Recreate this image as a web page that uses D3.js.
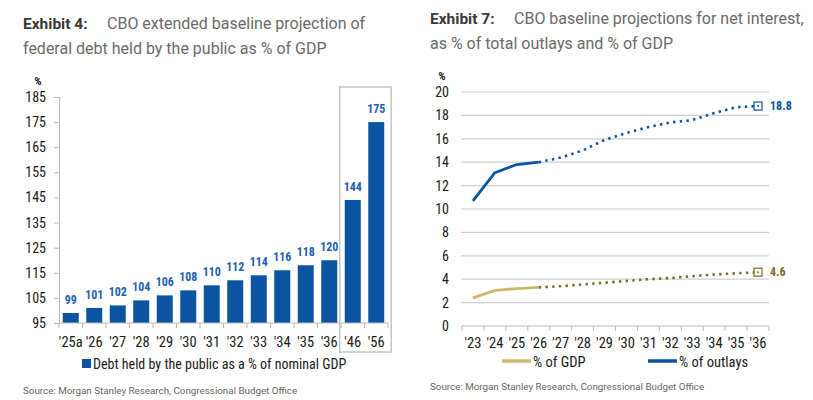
<!DOCTYPE html>
<html>
<head>
<meta charset="utf-8">
<script src="https://cdn.jsdelivr.net/npm/d3@7"></script>
<style>
  body { margin: 0; background: #fff; }
  svg { display: block; }
</style>
</head>
<body>
<div id="chart"></div>
<script>
// Exhibit 4 data
const debtYears = ["'25a", "'26", "'27", "'28", "'29", "'30", "'31", "'32", "'33", "'34", "'35", "'36", "'46", "'56"];
const debtValues = [99, 101, 102, 104, 106, 108, 110, 112, 114, 116, 118, 120, 144, 175];
const debtTicks = [95, 105, 115, 125, 135, 145, 155, 165, 175, 185];

// Exhibit 7 data
const interestYears = ["'23", "'24", "'25", "'26", "'27", "'28", "'29", "'30", "'31", "'32", "'33", "'34", "'35", "'36"];
const outlaysPct = [10.7, 13.1, 13.8, 14.0, 14.4, 15.0, 15.9, 16.5, 17.0, 17.4, 17.6, 18.2, 18.7, 18.8];
const gdpPct = [2.4, 3.05, 3.2, 3.3, 3.4, 3.55, 3.7, 3.85, 4.0, 4.1, 4.25, 4.4, 4.5, 4.6];
const interestTicks = [0, 2, 4, 6, 8, 10, 12, 14, 16, 18, 20];
const actualCount = 4; // '23-'26 solid, rest projected (dotted)

const W = 813, H = 400;
const narrow = "'Roboto Condensed', 'Liberation Sans Narrow', sans-serif";
const titleFont = "Roboto, 'Open Sans', sans-serif";

const blue = '#0b54a2';
const blueLabel = '#1f5fae';
const gold = '#cdb86c';
const olive = '#7a6a2c';
const axisGrey = '#b8b8b8';
const textDark = '#1a1a1a';

const svg = d3.select('#chart')
  .append('svg')
  .attr('width', W)
  .attr('height', H)
  .attr('viewBox', [0, 0, W, H]);

// ---------- titles ----------
function title(x, y, bold, rest1, rest2, restX) {
  const g = svg.append('g').attr('font-family', titleFont);
  g.append('text')
    .attr('x', x).attr('y', y)
    .attr('font-size', 15.5).attr('font-weight', 'bold').attr('fill', '#3a3a3a')
    .text(bold);
  g.append('text')
    .attr('x', restX).attr('y', y)
    .attr('font-size', 16).attr('fill', '#6a6a6a')
    .text(rest1);
  g.append('text')
    .attr('x', x).attr('y', y + 25)
    .attr('font-size', 16).attr('fill', '#6a6a6a')
    .text(rest2);
}
title(23, 29, 'Exhibit 4:', 'CBO extended baseline projection of', 'federal debt held by the public as % of GDP', 107);
title(430, 24, 'Exhibit 7:', 'CBO baseline projections for net interest,', 'as % of total outlays and % of GDP', 514);

// ---------- Exhibit 4: bars ----------
const left = svg.append('g');

const x1 = d3.scaleBand()
  .domain(debtYears)
  .range([59, 388])
  .paddingInner(0.32)
  .paddingOuter(0.16);

const y1 = d3.scaleLinear()
  .domain([95, 185])
  .range([323, 97]);

// highlight box round the long-range years
const b46 = x1("'46"), b56 = x1("'56");
left.append('rect')
  .attr('x', b46 - 5)
  .attr('y', 87)
  .attr('width', b56 + x1.bandwidth() + 7 - (b46 - 5))
  .attr('height', 265)
  .attr('fill', 'none')
  .attr('stroke', '#c4c4c4')
  .attr('stroke-width', 1.5);

left.selectAll('rect.bar')
  .data(debtValues)
  .join('rect')
  .attr('class', 'bar')
  .attr('x', (d, i) => x1(debtYears[i]))
  .attr('y', d => y1(d))
  .attr('width', x1.bandwidth())
  .attr('height', d => y1(95) - y1(d))
  .attr('fill', blue);

left.selectAll('text.val')
  .data(debtValues)
  .join('text')
  .attr('class', 'val')
  .attr('x', (d, i) => x1(debtYears[i]) + x1.bandwidth() / 2)
  .attr('y', d => y1(d) - 9)
  .attr('text-anchor', 'middle')
  .attr('font-family', narrow)
  .attr('font-size', 12)
  .attr('font-weight', 'bold')
  .attr('fill', blueLabel)
  .text(d => d);

// y axis
const yAxis1 = left.append('g')
  .attr('transform', 'translate(59,0)')
  .call(d3.axisLeft(y1).tickValues(debtTicks).tickSize(5).tickPadding(8));
yAxis1.select('.domain').attr('stroke', axisGrey);
yAxis1.selectAll('.tick line').attr('stroke', axisGrey);
yAxis1.selectAll('.tick text')
  .attr('font-family', narrow).attr('font-size', 14).attr('fill', textDark);

left.append('text')
  .attr('x', 38).attr('y', 85)
  .attr('text-anchor', 'middle')
  .attr('font-family', narrow).attr('font-size', 11.5).attr('font-weight', 'bold').attr('fill', textDark)
  .text('%');

// x axis, ticks on band edges
const xAxis1 = left.append('g').attr('transform', 'translate(0,323)');
xAxis1.append('line')
  .attr('x1', 59).attr('x2', 388)
  .attr('stroke', axisGrey);
xAxis1.selectAll('line.tk')
  .data(debtYears.concat(['end']))
  .join('line')
  .attr('class', 'tk')
  .attr('x1', (d, i) => 59 + i * x1.step())
  .attr('x2', (d, i) => 59 + i * x1.step())
  .attr('y1', 0).attr('y2', 5)
  .attr('stroke', axisGrey);
xAxis1.selectAll('text')
  .data(debtYears)
  .join('text')
  .attr('x', d => x1(d) + x1.bandwidth() / 2)
  .attr('y', 24)
  .attr('text-anchor', 'middle')
  .attr('font-family', narrow).attr('font-size', 14.5).attr('fill', textDark)
  .text(d => d);

// legend
left.append('rect')
  .attr('x', 82).attr('y', 359).attr('width', 9).attr('height', 9)
  .attr('fill', blue);
left.append('text')
  .attr('x', 93).attr('y', 368.5)
  .attr('font-family', narrow).attr('font-size', 14).attr('fill', textDark)
  .text('Debt held by the public as a % of nominal GDP');

left.append('text')
  .attr('x', 23).attr('y', 394)
  .attr('font-family', titleFont).attr('font-size', 9.8).attr('fill', '#666')
  .text('Source: Morgan Stanley Research, Congressional Budget Office');

// ---------- Exhibit 7: lines ----------
const right = svg.append('g');

const x2 = d3.scaleBand()
  .domain(interestYears)
  .range([462, 769]);

const y2 = d3.scaleLinear()
  .domain([0, 20])
  .range([326, 92]);

// gridlines
right.selectAll('line.grid')
  .data(interestTicks.filter(d => d > 0))
  .join('line')
  .attr('class', 'grid')
  .attr('x1', 461).attr('x2', 769)
  .attr('y1', d => y2(d)).attr('y2', d => y2(d))
  .attr('stroke', '#cfcfcf')
  .attr('stroke-width', 1.2);

const yAxis2 = right.append('g')
  .attr('transform', 'translate(461,0)')
  .call(d3.axisLeft(y2).tickValues(interestTicks).tickSize(0).tickPadding(12));
yAxis2.select('.domain').remove();
yAxis2.selectAll('.tick text')
  .attr('font-family', narrow).attr('font-size', 14).attr('fill', textDark);

right.append('text')
  .attr('x', 442).attr('y', 80)
  .attr('text-anchor', 'middle')
  .attr('font-family', narrow).attr('font-size', 11.5).attr('font-weight', 'bold').attr('fill', textDark)
  .text('%');

const xAxis2 = right.append('g').attr('transform', 'translate(0,326)');
xAxis2.append('line')
  .attr('x1', 462).attr('x2', 769)
  .attr('stroke', axisGrey);
xAxis2.selectAll('line.tk')
  .data(interestYears.concat(['end']))
  .join('line')
  .attr('class', 'tk')
  .attr('x1', (d, i) => 462 + i * x2.step())
  .attr('x2', (d, i) => 462 + i * x2.step())
  .attr('y1', 0).attr('y2', 5)
  .attr('stroke', axisGrey);
xAxis2.selectAll('text')
  .data(interestYears)
  .join('text')
  .attr('x', d => x2(d) + x2.bandwidth() / 2)
  .attr('y', 22)
  .attr('text-anchor', 'middle')
  .attr('font-family', narrow).attr('font-size', 14.5).attr('fill', textDark)
  .text(d => d);

const line2 = d3.line()
  .x(d => x2(d.year) + x2.bandwidth() / 2)
  .y(d => y2(d.value));

function drawSeries(values, solidColor, dotColor, label) {
  const pts = values.map((v, i) => ({ year: interestYears[i], value: v }));
  right.append('path')
    .datum(pts.slice(0, actualCount))
    .attr('d', line2)
    .attr('fill', 'none')
    .attr('stroke', solidColor)
    .attr('stroke-width', 2.8)
    .attr('stroke-linejoin', 'round');
  right.append('path')
    .datum(pts.slice(actualCount - 1))
    .attr('d', line2)
    .attr('fill', 'none')
    .attr('stroke', dotColor)
    .attr('stroke-width', 2.6)
    .attr('stroke-dasharray', '2.4 4.3');
  const last = pts[pts.length - 1];
  const lx = x2(last.year) + x2.bandwidth() / 2;
  const ly = y2(last.value);
  right.append('rect')
    .attr('x', lx - 4).attr('y', ly - 4)
    .attr('width', 8).attr('height', 8)
    .attr('fill', '#fff')
    .attr('stroke', dotColor)
    .attr('stroke-width', 1.2);
  right.append('circle')
    .attr('cx', lx).attr('cy', ly).attr('r', 1)
    .attr('fill', dotColor);
  right.append('text')
    .attr('x', lx + 12).attr('y', ly + 4)
    .attr('font-family', narrow).attr('font-size', 12).attr('font-weight', 'bold')
    .attr('fill', dotColor)
    .text(label);
}
drawSeries(outlaysPct, blue, blue, outlaysPct[outlaysPct.length - 1].toFixed(1));
drawSeries(gdpPct, gold, olive, gdpPct[gdpPct.length - 1].toFixed(1));

// legend
const legend = [
  { label: '% of GDP', color: gold, x: 502 },
  { label: '% of outlays', color: blue, x: 648 }
];
legend.forEach(l => {
  right.append('line')
    .attr('x1', l.x).attr('x2', l.x + 29)
    .attr('y1', 361).attr('y2', 361)
    .attr('stroke', l.color).attr('stroke-width', 3.5);
  right.append('text')
    .attr('x', l.x + 31).attr('y', 366.5)
    .attr('font-family', narrow).attr('font-size', 14.5).attr('fill', textDark)
    .text(l.label);
});

right.append('text')
  .attr('x', 430).attr('y', 390)
  .attr('font-family', titleFont).attr('font-size', 9.8).attr('fill', '#666')
  .text('Source: Morgan Stanley Research, Congressional Budget Office');
</script>
</body>
</html>
